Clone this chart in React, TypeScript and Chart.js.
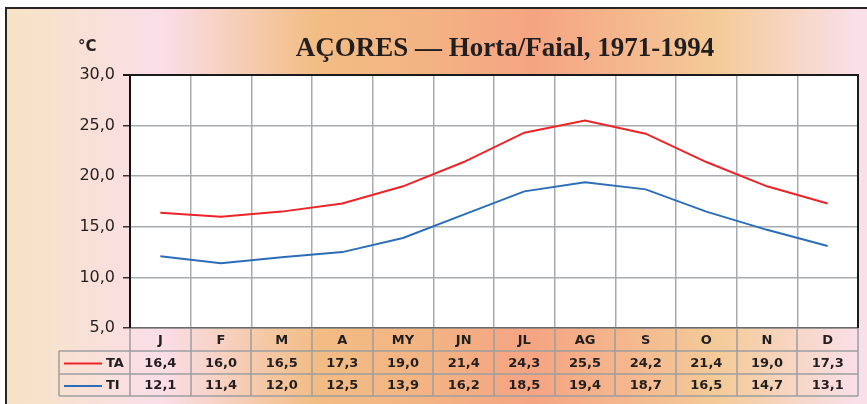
import React, { useEffect, useRef } from "react";
import { Chart, registerables } from "chart.js";

Chart.register(...registerables);

const months = ["J", "F", "M", "A", "MY", "JN", "JL", "AG", "S", "O", "N", "D"];
const taValues = [16.4, 16.0, 16.5, 17.3, 19.0, 21.4, 24.3, 25.5, 24.2, 21.4, 19.0, 17.3];
const tiValues = [12.1, 11.4, 12.0, 12.5, 13.9, 16.2, 18.5, 19.4, 18.7, 16.5, 14.7, 13.1];
const seriesNames = ["TA", "TI"];
const seriesColors = ["#ec2428", "#2c6db8"];
const titleText = "AÇORES — Horta/Faial, 1971-1994";
const unitText = "°C";
const yMin = 5;
const yMax = 30;
const yStep = 5;

const fmt = (v: number) => v.toFixed(1).replace(".", ",");

const W = 867;
const H = 404;

const decorPlugin = {
  id: "decor",
  beforeDraw(chart: any) {
    const ctx = chart.ctx as CanvasRenderingContext2D;
    const ca = chart.chartArea;
    ctx.save();
    ctx.fillStyle = "#ffffff";
    ctx.fillRect(0, 0, W, H);
    const g = ctx.createLinearGradient(7, 0, W, 0);
    g.addColorStop(0, "#f6e3c5");
    g.addColorStop(0.18, "#fadee8");
    g.addColorStop(0.36, "#f2bd84");
    g.addColorStop(0.5, "#f3b283");
    g.addColorStop(0.61, "#f5a482");
    g.addColorStop(0.83, "#f4cb99");
    g.addColorStop(0.985, "#f9dfe7");
    g.addColorStop(1, "#f9dfe7");
    ctx.fillStyle = g;
    ctx.fillRect(7, 9, W - 7, H - 9);
    // frame
    ctx.strokeStyle = "#2a2422";
    ctx.lineWidth = 2;
    ctx.beginPath();
    ctx.moveTo(6, H);
    ctx.lineTo(6, 8);
    ctx.lineTo(W, 8);
    ctx.stroke();
    // plot area white
    ctx.fillStyle = "#ffffff";
    ctx.fillRect(ca.left, ca.top, ca.right - ca.left, ca.bottom - ca.top);
    // title
    ctx.fillStyle = "#231f20";
    ctx.font = "bold 27px 'Liberation Serif', 'Times New Roman', serif";
    ctx.textAlign = "center";
    ctx.textBaseline = "alphabetic";
    ctx.fillText(titleText, 505, 56);
    // unit
    ctx.font = "bold 15px 'DejaVu Sans', sans-serif";
    ctx.textAlign = "left";
    ctx.fillText(unitText, 78, 51);
    ctx.restore();
  },
  afterDraw(chart: any) {
    const ctx = chart.ctx as CanvasRenderingContext2D;
    const ca = chart.chartArea;
    const xs = chart.scales.x;
    const half = (xs.getPixelForValue(1) - xs.getPixelForValue(0)) / 2;
    ctx.save();
    // plot border top/right
    ctx.strokeStyle = "#1a1a1a";
    ctx.lineWidth = 2;
    ctx.beginPath();
    ctx.moveTo(ca.left - 7, ca.top);
    ctx.lineTo(ca.right, ca.top);
    ctx.lineTo(ca.right, ca.bottom);
    ctx.stroke();

    const rowTop = ca.bottom;
    const r1 = rowTop + 23;
    const r2 = r1 + 23;
    const r3 = r2 + 22;
    const legLeft = 59;

    ctx.strokeStyle = "#9c9fa1";
    ctx.lineWidth = 1.5;
    ctx.beginPath();
    for (let i = 0; i <= months.length; i++) {
      const x = Math.round(xs.getPixelForValue(i) - half);
      ctx.moveTo(x, rowTop);
      ctx.lineTo(x, r3);
    }
    ctx.moveTo(legLeft, r1);
    ctx.lineTo(ca.right, r1);
    ctx.moveTo(legLeft, r2);
    ctx.lineTo(ca.right, r2);
    ctx.moveTo(legLeft, r3);
    ctx.lineTo(ca.right, r3);
    ctx.moveTo(legLeft, r1);
    ctx.lineTo(legLeft, r3);
    ctx.stroke();

    ctx.fillStyle = "#231f20";
    ctx.font = "bold 13px 'DejaVu Sans', sans-serif";
    ctx.textAlign = "center";
    ctx.textBaseline = "middle";
    const rows = [taValues, tiValues];
    months.forEach((m, i) => {
      const cx = xs.getPixelForValue(i);
      ctx.fillText(m, cx, (rowTop + r1) / 2 + 1);
      ctx.fillText(fmt(rows[0][i]), cx, (r1 + r2) / 2 + 1);
      ctx.fillText(fmt(rows[1][i]), cx, (r2 + r3) / 2 + 1);
    });
    // legend cells
    const ys = [(r1 + r2) / 2, (r2 + r3) / 2];
    seriesNames.forEach((n, k) => {
      ctx.strokeStyle = seriesColors[k];
      ctx.lineWidth = 2;
      ctx.beginPath();
      ctx.moveTo(64, ys[k] + 1);
      ctx.lineTo(102, ys[k] + 1);
      ctx.stroke();
      ctx.fillStyle = "#231f20";
      ctx.textAlign = "left";
      ctx.fillText(n, 106, ys[k] + 1);
    });
    ctx.restore();
  },
};

export default function App() {
  const ref = useRef<HTMLCanvasElement | null>(null);
  useEffect(() => {
    if (!ref.current) return;
    const chart = new Chart(ref.current, {
      type: "line",
      data: {
        labels: months,
        datasets: [
          {
            label: seriesNames[0],
            data: taValues,
            borderColor: seriesColors[0],
            backgroundColor: seriesColors[0],
            borderWidth: 2,
            pointRadius: 0,
            tension: 0,
          },
          {
            label: seriesNames[1],
            data: tiValues,
            borderColor: seriesColors[1],
            backgroundColor: seriesColors[1],
            borderWidth: 2,
            pointRadius: 0,
            tension: 0,
          },
        ],
      },
      options: {
        animation: false,
        responsive: false,
        devicePixelRatio: 1,
        layout: { padding: { left: 0, right: 9, top: 75, bottom: 0 } },
        plugins: {
          legend: { display: false },
          title: { display: false },
          tooltip: { enabled: false },
        },
        scales: {
          x: {
            type: "category",
            offset: true,
            grid: {
              offset: true,
              color: "#a7abad",
              lineWidth: 1.5,
              drawTicks: false,
            },
            border: { color: "#6b6b6b", width: 1.5 },
            ticks: { display: false },
            afterFit: (s: any) => {
              s.height = 76;
            },
          },
          y: {
            min: yMin,
            max: yMax,
            grid: {
              color: "#a7abad",
              lineWidth: 1.5,
              tickLength: 7,
              tickColor: "#333333",
            },
            border: { color: "#111111", width: 2 },
            ticks: {
              stepSize: yStep,
              padding: 8,
              color: "#231f20",
              font: { family: "'DejaVu Sans', sans-serif", size: 16 },
              callback: (v: any) => fmt(Number(v)),
            },
            afterFit: (s: any) => {
              s.width = 130;
            },
          },
        },
      },
      plugins: [decorPlugin],
    });
    return () => chart.destroy();
  }, []);
  return (
    <div style={{ position: "fixed", left: 0, top: 0, width: W, height: H }}>
      <canvas ref={ref} width={W} height={H} style={{ width: W, height: H, display: "block" }} />
    </div>
  );
}
